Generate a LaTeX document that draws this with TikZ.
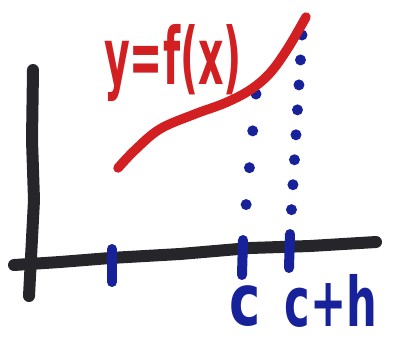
\documentclass[tikz,border=0pt]{standalone}
\usepackage{fontspec}
\setsansfont{DejaVu Sans}
\usetikzlibrary{positioning}
\definecolor{inkblack}{HTML}{26262A}
\definecolor{inkblue}{HTML}{17229A}
\definecolor{inkred}{HTML}{D21F22}

\begin{document}
\begin{tikzpicture}[x=0.02cm, y=-0.02cm,
  axis/.style={line width=0.24cm, inkblack, line cap=round, line join=round},
  tickmark/.style={line width=0.2cm, inkblue, line cap=round},
  guide/.style={line width=0.22cm, inkblue, line cap=round},
  graph/.style={line width=0.19cm, inkred, line cap=round},
  hand/.style={font=\sffamily\bfseries\fontsize{30}{30}\selectfont,
    inner sep=0pt}
]
  \useasboundingbox (0,0) rectangle (393,343);

  % Axes
  \coordinate (ytop) at (33,70);
  \coordinate (ybot) at (29,296);
  \coordinate (xleft) at (14,265);
  \coordinate (xright) at (376,242);
  \draw[axis] (ytop) -- (32,140) -- (34,200) -- (ybot);
  \draw[axis] (xleft) -- (60,262) -- (110,258) -- (180,254) -- (250,248)
    -- (310,246) -- (xright);

  % Tick marks
  \coordinate (a) at (112,249);
  \coordinate (c) at (243,240);
  \coordinate (ch) at (290,234);
  \draw[tickmark] (a) -- ++(0,33);
  \draw[tickmark] (c) -- ++(-1,35);
  \draw[tickmark] (ch) -- ++(-1,34);

  % Dotted guides up to the graph
  \coordinate (ctop) at (256,94);
  \coordinate (chtop) at (302,35);
  \draw[guide, dash pattern=on 0pt off 0.74cm] (ctop) -- (c);
  \draw[guide, dash pattern=on 0pt off 0.5cm] (chtop) -- (ch);

  % Graph of f
  \draw[graph] plot[smooth, tension=0.6] coordinates {(118,168) (135,150)
    (160,129) (195,114) (225,103) (250,90) (270,73) (288,48) (306,17)};

  % Labels
  \node[hand, inkred, xscale=0.75, yscale=1.5] (lblf) at (173,63) {y=f(x)};
  \node[hand, inkblue, yscale=1.35] (lblc) at (245,306) {c};
  \node[hand, inkblue, xscale=0.82, yscale=1.3] (lblch) at (331,301) {c+h};
\end{tikzpicture}
\end{document}
